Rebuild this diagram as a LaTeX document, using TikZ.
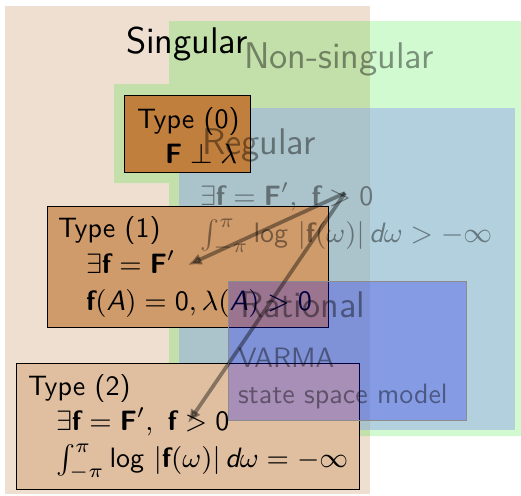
\RequirePackage{fix-cm}
\documentclass[tikz,border=0pt]{standalone}
\usepackage{amsmath}
\usetikzlibrary{arrows.meta}
\definecolor{singbg}{RGB}{239,223,209}
\definecolor{nsgreen}{RGB}{0,230,0}
\definecolor{regblue}{RGB}{148,167,233}
\definecolor{typezero}{RGB}{193,127,62}
\definecolor{typeone}{RGB}{207,155,107}
\definecolor{typetwo}{RGB}{224,191,160}
\newcommand{\bv}[1]{\text{\bfseries #1}}
\newcommand{\sv}[1]{\text{\slshape #1}}
\newcommand{\nm}[1]{\text{#1}}
\newcommand{\lgsf}{\mathop{\text{log}}}
\tikzset{
  bigfont/.style={font=\fontsize{13}{15}\selectfont\sffamily},
  smallfont/.style={font=\fontsize{9.8}{12}\selectfont\sffamily},
  txt/.style={anchor=base west, inner sep=0pt, outer sep=0pt},
  ghost/.style={text=black, text opacity=0.42},
  typebox/.style={draw=black, line width=0.45pt, inner sep=0pt, anchor=north west},
  conn/.style={draw=black, draw opacity=0.4, fill opacity=0.4, line width=1.3pt, -{Latex[length=4.8pt,width=4.2pt]}}
}
\begin{document}
\begin{tikzpicture}[x=0.35pt,y=-0.35pt]
\useasboundingbox (0,0) rectangle (521,495);
% regions
\fill[singbg] (5,6) rectangle (370,494);
\fill[nsgreen, fill opacity=0.18] (169,21) -- (521,21) -- (521,436) -- (169,436) -- (169,183) -- (114,183) -- (114,84) -- (169,84) -- cycle;
\fill[regblue, fill opacity=0.5] (179,108) rectangle (515,430);
% type boxes
\node[typebox, fill=typezero, minimum width=44.1pt, minimum height=26.95pt] (t0) at (124,95) {};
\node[typebox, fill=typeone, minimum width=98.35pt, minimum height=42.35pt] (t1) at (47,206) {};
\node[typebox, fill=typetwo, minimum width=120.05pt, minimum height=44.1pt] (t2) at (16,363) {};
% type texts
\node[txt, smallfont] (t0a) at (137,128) {Type (0)};
\node[txt, smallfont] (t0b) at (165,163) {$\bv{F}\perp\lambda$};
\node[txt, smallfont] (t1a) at (58,237) {Type (1)};
\node[txt, smallfont] (t1b) at (86,273) {$\exists\bv{f}=\bv{F}'$};
\node[txt, smallfont] (t1c) at (86,310) {$\bv{f}(\sv{A})=\nm{0},\lambda(\sv{A})>\nm{0}$};
\node[txt, smallfont] (t2a) at (28,395) {Type (2)};
\node[txt, smallfont] (t2b) at (56,430) {$\exists\bv{f}=\bv{F}',\ \bv{f}>\nm{0}$};
\node[txt, smallfont] (t2c) at (56,467) {$\int_{-\pi}^{\pi}\lgsf\,|\bv{f}(\omega)|\,\sv{d}\omega=-\infty$};
% region labels
\node[txt, bigfont] (sing) at (126,53) {Singular};
\node[txt, bigfont, ghost] (nonsing) at (244,68) {Non-singular};
\node[txt, bigfont, ghost] (reg) at (202,154) {Regular};
\node[txt, smallfont, ghost] (rega) at (200,205) {$\exists\bv{f}=\bv{F}',\ \bv{f}>\nm{0}$};
\node[txt, smallfont, ghost] (regb) at (200,242) {$\int_{-\pi}^{\pi}\lgsf\,|\bv{f}(\omega)|\,\sv{d}\omega>-\infty$};
% rational
\fill[blue, fill opacity=0.25] (228,281) rectangle (466,420);
\draw[black!45, line width=0.3pt] (228,281) rectangle (466,420);
\node[txt, bigfont, ghost] (rat) at (240,317) {Rational};
\node[txt, smallfont, ghost] (varma) at (238,367) {VARMA};
\node[txt, smallfont, ghost] (ssm) at (238,403) {state space model};
% connectors
\coordinate (src) at (345,193);
\coordinate (dst1) at (188,265);
\coordinate (dst2) at (188,423);
\draw[conn] (src) -- (dst1);
\draw[conn] (src) -- (dst2);
\end{tikzpicture}
\end{document}
